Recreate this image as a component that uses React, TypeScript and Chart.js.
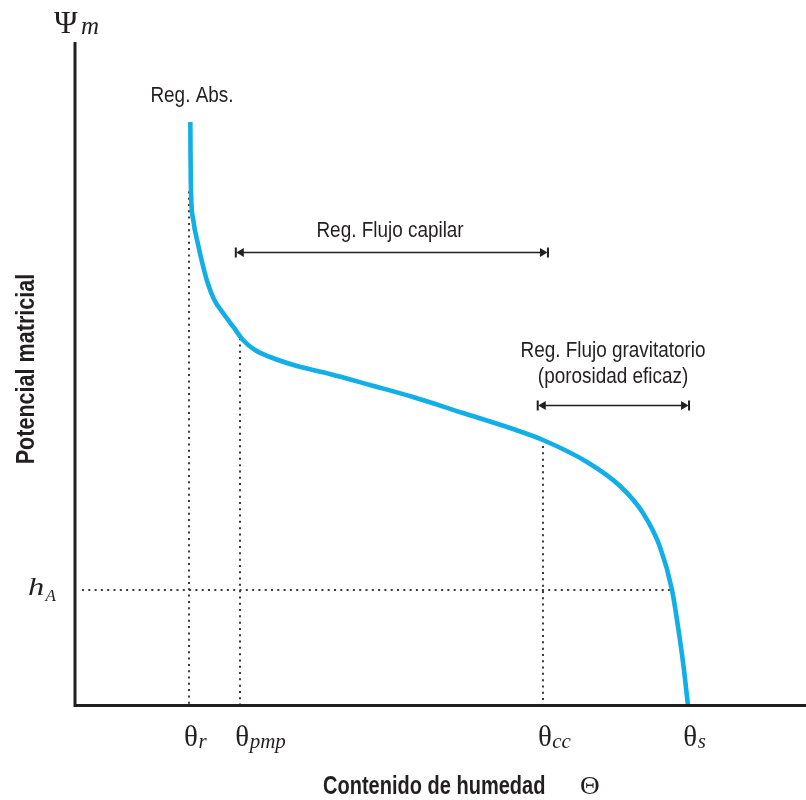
import React, { useEffect, useRef } from "react";
import { Chart, registerables } from "chart.js";

Chart.register(...registerables);

// Retention curve (moisture content θ vs matric potential Ψm), arbitrary units 0..100
const curveTheta = [15.78, 15.8, 15.83, 15.87, 16.18, 16.79, 17.41, 18.15, 19.06, 20.25, 21.66, 22.98, 24.62, 26.68, 30.37, 34.88, 40.36, 46.24, 53.08, 59.92, 64.02, 70.04, 74.56, 77.7, 80.03, 81.67, 82.76, 83.31, 83.86];
const curvePsi = [87.95, 83.73, 79.97, 77.26, 73.19, 69.73, 66.72, 63.7, 61.14, 59.19, 57.08, 55.12, 53.61, 52.56, 51.2, 50.0, 48.34, 46.54, 44.13, 41.72, 40.06, 36.75, 33.13, 29.07, 23.95, 17.47, 9.94, 5.42, 0];

// Characteristic moisture contents (x-axis marks)
const markNames = ["r", "pmp", "cc", "s"];
const markTheta = [15.6, 22.6, 64.0, 83.9];
const markTop = [77.5, 55.4, 40.1, 0];

// Air-entry suction level
const hALevel = 17.5;
const hAReach = 81.7;

// Region annotations
const capilarSpan = [22.0, 64.7];
const capilarLevel = 68.4;
const gravSpan = [63.3, 84.0];
const gravLevel = 45.3;
const absLabelPos = [16.0, 91.0];
const capilarLabelPos = [43.1, 70.7];
const gravLabelPos = [73.6, 52.6, 48.6];

const INK = "#231f20";
const CYAN = "#12aee7";
const SANS = "'Liberation Sans', Arial, sans-serif";
const SERIF = "'Liberation Serif', 'Times New Roman', serif";

function drawText(ctx: CanvasRenderingContext2D, s: string, x: number, y: number, font: string, sx: number, align: CanvasTextAlign, rot = 0) {
  ctx.save();
  ctx.font = font;
  ctx.fillStyle = INK;
  ctx.textAlign = align;
  ctx.textBaseline = "alphabetic";
  ctx.translate(x, y);
  if (rot) ctx.rotate(rot);
  ctx.scale(sx, 1);
  ctx.fillText(s, 0, 0);
  ctx.restore();
}

function drawArrow(ctx: CanvasRenderingContext2D, x1: number, x2: number, yy: number) {
  ctx.save();
  ctx.strokeStyle = INK;
  ctx.fillStyle = INK;
  ctx.setLineDash([]);
  ctx.lineWidth = 1.4;
  ctx.beginPath();
  ctx.moveTo(x1 + 4, yy);
  ctx.lineTo(x2 - 4, yy);
  ctx.stroke();
  ctx.fillRect(x1 - 1, yy - 5, 2, 10);
  ctx.fillRect(x2 - 1, yy - 5, 2, 10);
  ctx.beginPath();
  ctx.moveTo(x1 + 0.5, yy);
  ctx.lineTo(x1 + 8, yy - 4.5);
  ctx.lineTo(x1 + 8, yy + 4.5);
  ctx.closePath();
  ctx.fill();
  ctx.beginPath();
  ctx.moveTo(x2 - 0.5, yy);
  ctx.lineTo(x2 - 8, yy - 4.5);
  ctx.lineTo(x2 - 8, yy + 4.5);
  ctx.closePath();
  ctx.fill();
  ctx.restore();
}

const overlay = {
  id: "overlay",
  beforeDatasetsDraw(chart: any) {
    const { ctx } = chart;
    const xs = chart.scales.x;
    const ys = chart.scales.y;
    ctx.save();
    ctx.strokeStyle = "#3a3a3a";
    ctx.lineWidth = 2;
    ctx.setLineDash([2, 4.3]);
    for (let i = 0; i < markTheta.length; i++) {
      if (markTop[i] <= 0) continue;
      const px = Math.round(xs.getPixelForValue(markTheta[i]));
      ctx.beginPath();
      ctx.moveTo(px, ys.getPixelForValue(markTop[i]));
      ctx.lineTo(px, ys.getPixelForValue(0) - 2);
      ctx.stroke();
    }
    const hy = Math.round(ys.getPixelForValue(hALevel));
    ctx.beginPath();
    ctx.moveTo(xs.getPixelForValue(0) + 7, hy);
    ctx.lineTo(xs.getPixelForValue(hAReach), hy);
    ctx.stroke();
    ctx.restore();
  },
  afterDatasetsDraw(chart: any) {
    const { ctx } = chart;
    const xs = chart.scales.x;
    const ys = chart.scales.y;
    const x0 = xs.getPixelForValue(0);
    const y0 = ys.getPixelForValue(0) - 0.5;
    ctx.save();
    ctx.strokeStyle = INK;
    ctx.lineWidth = 3;
    ctx.beginPath();
    ctx.moveTo(x0, chart.chartArea.top);
    ctx.lineTo(x0, y0 + 1.5);
    ctx.moveTo(x0 - 1.5, y0);
    ctx.lineTo(chart.width, y0);
    ctx.stroke();
    ctx.restore();

    drawArrow(ctx, xs.getPixelForValue(capilarSpan[0]), xs.getPixelForValue(capilarSpan[1]), Math.round(ys.getPixelForValue(capilarLevel)) + 0.5);
    drawArrow(ctx, xs.getPixelForValue(gravSpan[0]), xs.getPixelForValue(gravSpan[1]), Math.round(ys.getPixelForValue(gravLevel)) + 0.5);

    const reg = `22px ${SANS}`;
    drawText(ctx, "Reg. Abs.", xs.getPixelForValue(absLabelPos[0]), ys.getPixelForValue(absLabelPos[1]), reg, 0.86, "center");
    drawText(ctx, "Reg. Flujo capilar", xs.getPixelForValue(capilarLabelPos[0]), ys.getPixelForValue(capilarLabelPos[1]), reg, 0.86, "center");
    drawText(ctx, "Reg. Flujo gravitatorio", xs.getPixelForValue(gravLabelPos[0]), ys.getPixelForValue(gravLabelPos[1]), reg, 0.86, "center");
    drawText(ctx, "(porosidad eficaz)", xs.getPixelForValue(gravLabelPos[0]), ys.getPixelForValue(gravLabelPos[2]), reg, 0.86, "center");

    for (let i = 0; i < markTheta.length; i++) {
      const px = xs.getPixelForValue(markTheta[i]) + 2;
      ctx.save();
      ctx.font = `29px ${SERIF}`;
      const w = ctx.measureText("θ").width;
      ctx.restore();
      drawText(ctx, "θ", px - w / 2, y0 + 40, `29px ${SERIF}`, 1, "left");
      drawText(ctx, markNames[i], px + w / 2 + 0.5, y0 + 42, `italic 21px ${SERIF}`, 1, "left");
    }

    const hy = ys.getPixelForValue(hALevel);
    drawText(ctx, "h", 28, hy + 5, `italic 26px ${SERIF}`, 1.25, "left");
    drawText(ctx, "A", 45.5, hy + 11, `italic 17px ${SERIF}`, 1, "left");

    drawText(ctx, "Ψ", 54, 33, `32px ${SERIF}`, 1, "left");
    drawText(ctx, "m", 81, 34, `italic 25px ${SERIF}`, 1, "left");

    drawText(ctx, "Contenido de humedad", 323, 794, `bold 26px ${SANS}`, 0.77, "left");
    drawText(ctx, "Θ", 580, 794, `26px ${SERIF}`, 1.05, "left");
    drawText(ctx, "Potencial matricial", 34, 369, `bold 26px ${SANS}`, 0.83, "center", -Math.PI / 2);
  },
};

export default function App() {
  const ref = useRef<HTMLCanvasElement | null>(null);
  useEffect(() => {
    if (!ref.current) return;
    const points = curveTheta.map((t, i) => ({ x: t, y: curvePsi[i] }));
    const chart = new Chart(ref.current, {
      type: "line",
      data: {
        datasets: [
          {
            data: points,
            borderColor: CYAN,
            borderWidth: 4.6,
            pointRadius: 0,
            cubicInterpolationMode: "monotone",
            fill: false,
            clip: false as any,
            borderCapStyle: "butt",
          },
        ],
      },
      options: {
        responsive: false,
        animation: false,
        layout: { padding: { left: 75, top: 42, right: 0, bottom: 94 } },
        plugins: { legend: { display: false }, tooltip: { enabled: false } },
        scales: {
          x: { type: "linear", min: 0, max: 100, display: false },
          y: { type: "linear", min: 0, max: 100, display: false },
        },
      },
      plugins: [overlay],
    });
    return () => chart.destroy();
  }, []);
  return (
    <div style={{ position: "absolute", left: 0, top: 0, width: 806, height: 800, background: "#fff" }}>
      <canvas ref={ref} width={806} height={800} style={{ display: "block", width: 806, height: 800 }} />
    </div>
  );
}
